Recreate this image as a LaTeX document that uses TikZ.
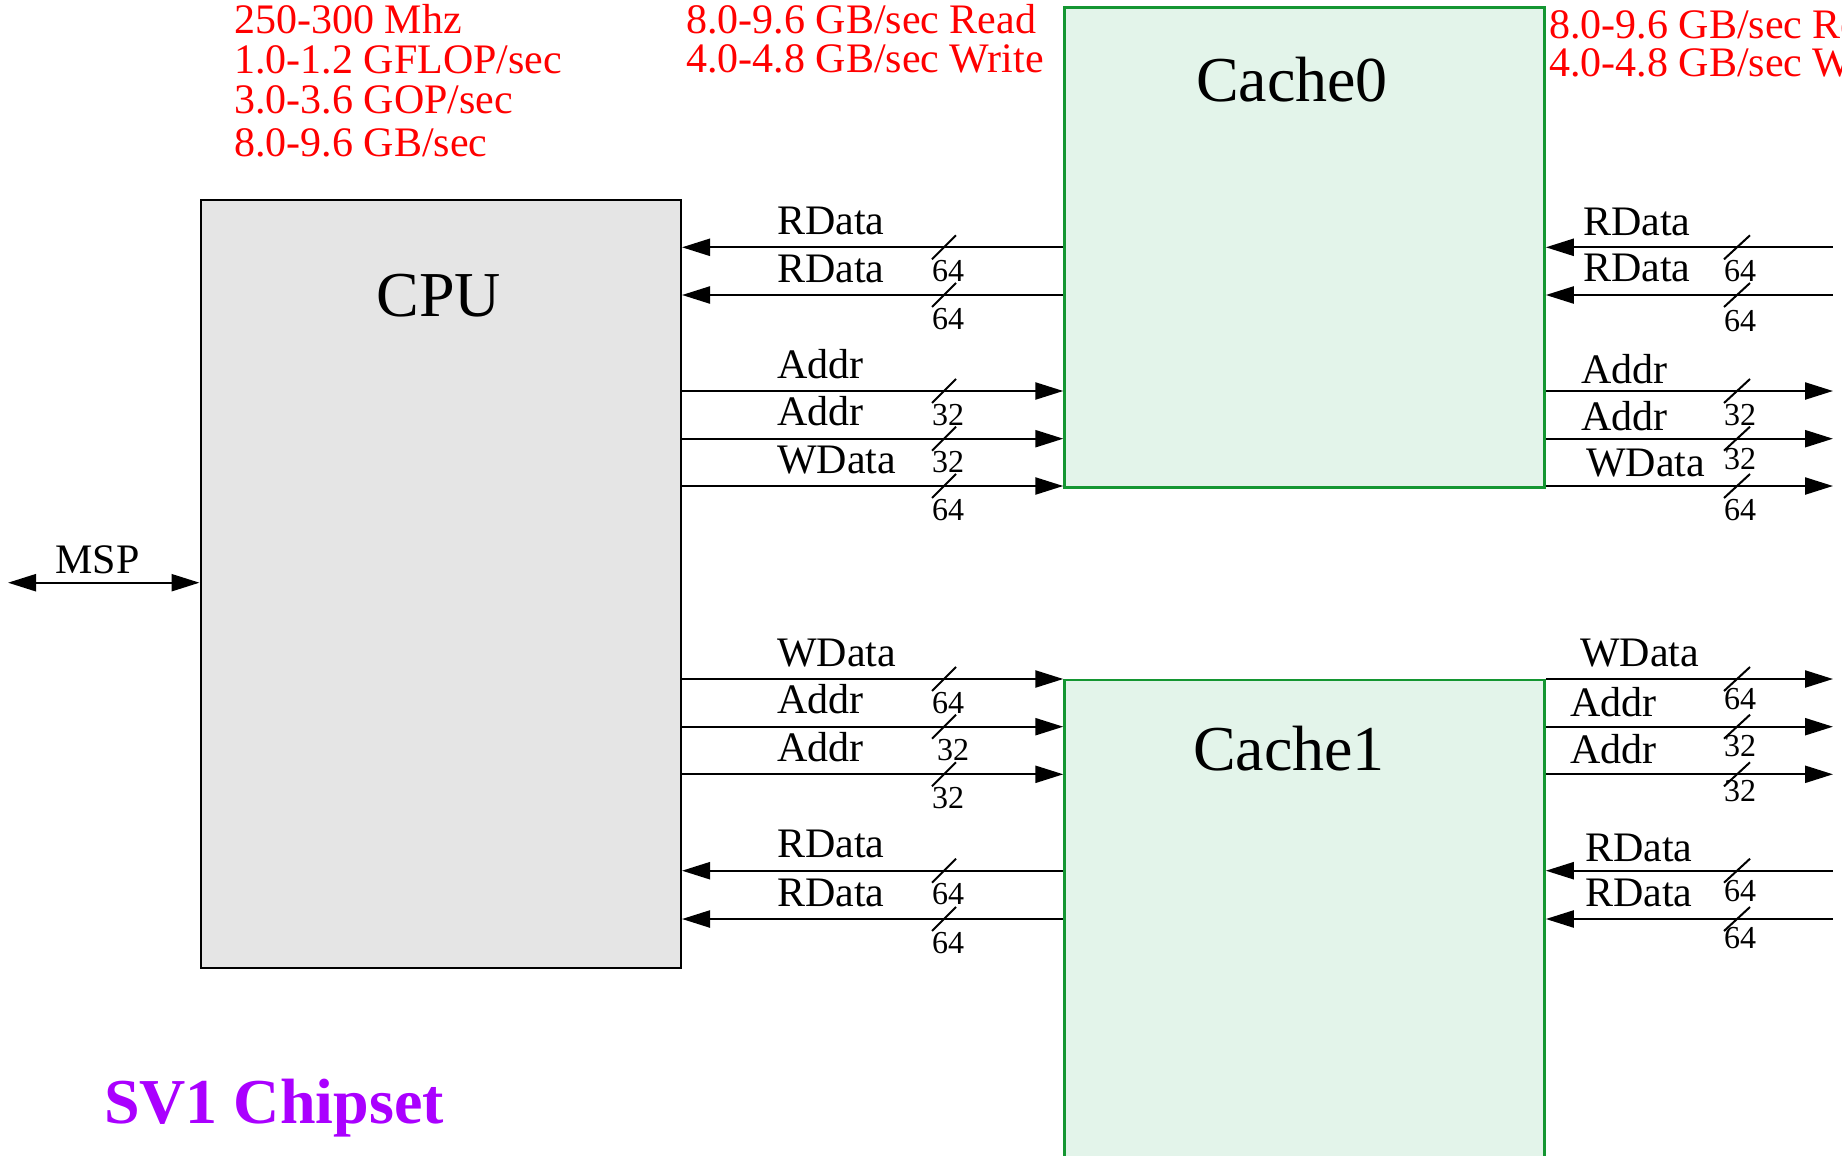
\documentclass[tikz,border=0pt]{standalone}
\usepackage{fontspec}
\setmainfont{Liberation Serif}
\usetikzlibrary{arrows.meta}
\definecolor{myred}{RGB}{255,0,0}
\definecolor{mypurple}{RGB}{170,0,255}
\definecolor{cpugray}{RGB}{229,229,229}
\definecolor{cachefill}{RGB}{227,244,234}
\definecolor{cacheline}{RGB}{20,150,50}
\begin{document}
\begin{tikzpicture}[x=1pt,y=-1pt,
  bus/.style={line width=2.3pt, -{Triangle[length=28pt,width=17pt]}},
  busin/.style={line width=2.3pt, {Triangle[length=28pt,width=17pt]}-},
  tick/.style={line width=2pt},
  lbl/.style={anchor=base west, inner sep=0pt, font=\fontsize{42}{48}\selectfont},
  num/.style={anchor=base west, inner sep=0pt, font=\fontsize{32}{36}\selectfont},
  redtxt/.style={anchor=base west, inner sep=0pt, text=myred, font=\fontsize{42}{48}\selectfont},
  big/.style={anchor=base, inner sep=0pt, font=\fontsize{64}{72}\selectfont},
  cachebox/.style={draw=cacheline, line width=2.5pt, fill=cachefill, minimum width=480pt, inner sep=0pt, anchor=north west},
]
\clip (0,0) rectangle (1842,1156);
\fill[white] (0,0) rectangle (1842,1156);

% boxes
\node[draw=black, line width=2.5pt, fill=cpugray, minimum width=480pt, minimum height=768pt, inner sep=0pt, anchor=north west] (cpu) at (199.5,198.5) {};
\node[cachebox, minimum height=479.5pt] (c0) at (1063.3,6.5) {};
\node[cachebox, minimum height=560pt] (c1) at (1063.3,678.5) {};
\coordinate (ext) at (1833,0);

\node[big] (cpulbl) at (438.8,316) {CPU};
\node[big] (c0lbl) at (1292,101) {Cache0};
\node[big] (c1lbl) at (1289,770.5) {Cache1};

% MSP
\coordinate (msp) at (8,582.7);
\draw[line width=2.3pt, {Triangle[length=28pt,width=17pt]}-{Triangle[length=28pt,width=17pt]}] (msp) -- (cpu.west |- msp);
\node[anchor=base, inner sep=0pt, font=\fontsize{42}{48}\selectfont] (msplbl) at (97.5,573) {MSP};

% left buses
\foreach \y/\s/\t/\n/\nx/\c in {247.3/busin/RData/64/932/c0, 295/busin/RData/64/932/c0, 391/bus/Addr/32/932/c0, 438.7/bus/Addr/32/932/c0, 486/bus/WData/64/932/c0, 679/bus/WData/64/932/c1, 726.7/bus/Addr/32/937/c1, 774.3/bus/Addr/32/932/c1, 870.7/busin/RData/64/932/c1, 919/busin/RData/64/932/c1}{
  \draw[\s] (cpu.east |- 0,\y) -- (\c.west |- 0,\y);
  \draw[tick] (932,\y+12) -- (956,\y-12);
  \node[lbl] at (777,\y-13) {\t};
  \node[num] at (\nx,\y+34) {\n};
}

% right buses
\foreach \y/\s/\t/\n/\lx/\lo/\no/\c in {247.3/busin/RData/64/1583/12.3/34/c0, 295/busin/RData/64/1583/13.3/36/c0, 391/bus/Addr/32/1581/7.7/34/c0, 438.7/bus/Addr/32/1581/8.7/31/c0, 486/bus/WData/64/1586/9.3/34/c0, 679/bus/WData/64/1580/12.3/30/c1, 726.7/bus/Addr/32/1570/10/30/c1, 774.3/bus/Addr/32/1570/11/27/c1, 870.7/busin/RData/64/1585/9/31/c1, 919/busin/RData/64/1585/12.3/29/c1}{
  \draw[\s] (\c.east |- 0,\y) -- (ext |- 0,\y);
  \draw[tick] (1724,\y+12) -- (1750,\y-12);
  \node[lbl] at (\lx,\y-\lo) {\t};
  \node[num] at (1724,\y+\no) {\n};
}

% red annotations
\node[redtxt] (r1) at (234,33.5) {250-300 Mhz};
\node[redtxt] (r2) at (234,73.5) {1.0-1.2 GFLOP/sec};
\node[redtxt] (r3) at (234,113.5) {3.0-3.6 GOP/sec};
\node[redtxt] (r4) at (234,156) {8.0-9.6 GB/sec};
\node[redtxt] (r5) at (686,34) {8.0-9.6 GB/sec Read};
\node[redtxt] (r6) at (686,72.5) {4.0-4.8 GB/sec Write};
\node[redtxt] (r7) at (1549,38.5) {8.0-9.6 GB/sec Read};
\node[redtxt] (r8) at (1549,77) {4.0-4.8 GB/sec Write};

% title
\node[anchor=base west, inner sep=0pt, text=mypurple, font=\fontsize{64}{72}\selectfont\bfseries] (title) at (104,1123.5) {SV1 Chipset};
\end{tikzpicture}
\end{document}
